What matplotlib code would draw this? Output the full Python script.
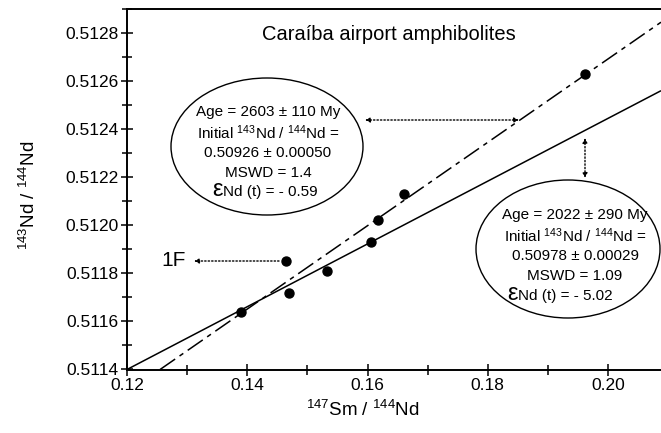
import matplotlib
matplotlib.use("Agg")
import matplotlib.pyplot as plt
from matplotlib.patches import Ellipse, FancyArrowPatch
from matplotlib.ticker import MultipleLocator, FormatStrFormatter

plt.rcParams['font.family'] = ['Liberation Sans', 'DejaVu Sans']
plt.rcParams['mathtext.default'] = 'regular'

# data
sm_nd = [0.1389, 0.1465, 0.1470, 0.1533, 0.1605, 0.1617, 0.1660, 0.1961]
nd_nd = [0.51164, 0.51185, 0.51172, 0.51181, 0.51193, 0.51202, 0.51213, 0.51263]
# isochron lines (endpoints)
iso2022_x = [0.1200, 0.2088]
iso2022_y = [0.51140, 0.51256]
iso2603_x = [0.1255, 0.2088]
iso2603_y = [0.51140, 0.512845]

W, H = 661, 433
fig = plt.figure(figsize=(W / 100, H / 100), dpi=100)
ax = fig.add_axes([127 / W, 1 - 369.5 / H, 1 - 127 / W, (369.5 - 9) / H])

def fx(px):
    return px / W

def fy(py):
    return 1 - py / H

ax.plot(iso2022_x, iso2022_y, color='black', lw=1.1, solid_capstyle='butt')
ax.plot(iso2603_x, iso2603_y, color='black', lw=1.1, linestyle=(0, (12, 3.5, 3, 3.5)))
ax.scatter(sm_nd, nd_nd, s=42, color='black', zorder=5)

ax.set_xlim(0.12, 0.2088)
ax.set_ylim(0.5114, 0.5129)
ax.xaxis.set_major_locator(MultipleLocator(0.02))
ax.xaxis.set_minor_locator(MultipleLocator(0.01))
ax.yaxis.set_major_locator(MultipleLocator(0.0002))
ax.yaxis.set_minor_locator(MultipleLocator(0.0001))
ax.xaxis.set_major_formatter(FormatStrFormatter('%.2f'))
ax.yaxis.set_major_formatter(FormatStrFormatter('%.4f'))
ax.tick_params(which='both', direction='inout', width=1.1, labelsize=12.5, colors='black', pad=2)
ax.tick_params(which='major', length=8)
ax.tick_params(which='minor', length=7)
ax.spines['right'].set_visible(False)
for s in ['left', 'bottom', 'top']:
    ax.spines[s].set_linewidth(1.4)

fig.text(fx(363), fy(410), r'$^{147}$Sm / $^{144}$Nd', ha='center', va='center', fontsize=13.5)
fig.text(fx(29), fy(195), r'$^{143}$Nd / $^{144}$Nd', ha='center', va='center', fontsize=13.5, rotation=90)
fig.text(fx(389), fy(34), 'Caraíba airport amphibolites', ha='center', va='center', fontsize=14.5)

# ellipses
e1 = Ellipse((fx(267), fy(146.5)), 192 / W, 137 / H, transform=fig.transFigure,
             fill=False, edgecolor='black', lw=1.0)
e2 = Ellipse((fx(568), fy(249)), 184 / W, 138 / H, transform=fig.transFigure,
             fill=False, edgecolor='black', lw=1.0)
fig.add_artist(e1)
fig.add_artist(e2)

lines1 = ['Age = 2603 ± 110 My', r'Initial $^{143}$Nd / $^{144}$Nd =', '0.50926 ± 0.00050',
          'MSWD = 1.4']
ys1 = [112, 133, 153, 173]
for t, y in zip(lines1, ys1):
    fig.text(fx(268), fy(y), t, ha='center', va='center', fontsize=11)
fig.text(fx(223), fy(190), 'ε', ha='right', va='center', fontsize=17)
fig.text(fx(223), fy(192), r'Nd (t) = - 0.59', ha='left', va='center', fontsize=11)

lines2 = ['Age = 2022 ± 290 My', r'Initial $^{143}$Nd / $^{144}$Nd =', '0.50978 ± 0.00029',
          'MSWD = 1.09']
ys2 = [215, 236, 256, 276]
for t, y in zip(lines2, ys2):
    fig.text(fx(575), fy(y), t, ha='center', va='center', fontsize=11)
fig.text(fx(518), fy(294), 'ε', ha='right', va='center', fontsize=17)
fig.text(fx(518), fy(296), r'Nd (t) = - 5.02', ha='left', va='center', fontsize=11)

fig.text(fx(174), fy(261), '1F', ha='center', va='center', fontsize=15)

arrow_kw = dict(color='black', lw=1.0, linestyle=(0, (1, 1.5)), mutation_scale=7,
                shrinkA=0, shrinkB=0)
fig.add_artist(FancyArrowPatch((fx(365), fy(120)), (fx(519), fy(120)),
               transform=fig.transFigure, arrowstyle='<|-|>', **arrow_kw))
fig.add_artist(FancyArrowPatch((fx(585), fy(138)), (fx(585), fy(178)),
               transform=fig.transFigure, arrowstyle='<|-|>', **arrow_kw))
fig.add_artist(FancyArrowPatch((fx(279), fy(261)), (fx(194), fy(261)),
               transform=fig.transFigure, arrowstyle='-|>', **arrow_kw))

fig.savefig('out.png', dpi=100)
